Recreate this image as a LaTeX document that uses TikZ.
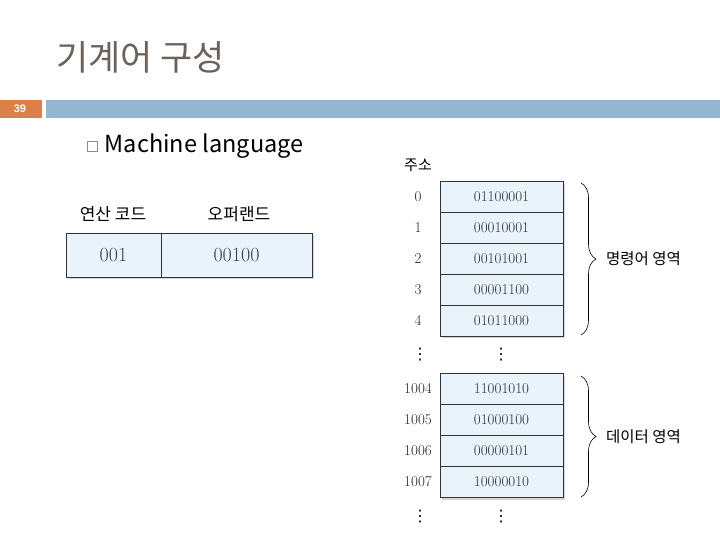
\documentclass[tikz,border=0pt]{standalone}
\usepackage{fontspec}
\newfontfamily\krfont{Noto Sans CJK KR}
\newfontfamily\arialfont{Liberation Sans}
\newfontfamily\symfont{DejaVu Sans}
\usetikzlibrary{positioning, calc, shadows, decorations.pathreplacing}
\definecolor{titlegray}{HTML}{6B625C}
\definecolor{slideorange}{HTML}{DD8047}
\definecolor{slideblue}{HTML}{94B6D2}
\definecolor{cellblue}{HTML}{E8F3FC}

\begin{document}
\begin{tikzpicture}[x=1pt, y=-1pt,
        cell/.style={rectangle, draw=black!80, fill=cellblue, minimum width=123pt, minimum height=31pt, inner sep=0pt, outer sep=0pt, font=\fontsize{15}{15}\selectfont, text=black!80, drop shadow={shadow xshift=2pt, shadow yshift=-2pt, fill=black!40, opacity=0.4}},
        field/.style={cell, minimum height=44pt, font=\fontsize{20}{20}\selectfont, text=black!75},
        addr/.style={font=\fontsize{15}{15}\selectfont, text=black!85, inner sep=0pt},
        head/.style={font=\krfont\fontsize{17}{17}\selectfont, inner sep=0pt},
        vdot/.style={font=\symfont\fontsize{16}{16}\selectfont, inner sep=0pt},
        area/.style={font=\krfont\fontsize{15.5}{15.5}\selectfont, anchor=west, inner sep=0pt},
        curly/.style={decorate, decoration={brace, amplitude=15pt, aspect=0.5}, semithick}
    ]
        \useasboundingbox (0,0) rectangle (720,540);

        % Slide heading
        \node[font=\krfont\fontsize{35}{35}\selectfont, text=titlegray, anchor=west, inner sep=0pt] (title) at (56,57) {기계어 구성};
        \fill[slideorange] (0,100) rectangle (42,118);
        \node[font=\arialfont\bfseries\fontsize{11}{11}\selectfont, text=white, inner sep=0pt] (pagenum) at (20,109) {39};
        \fill[slideblue] (46,100) rectangle (720,118);
        \node[draw=black!45, minimum size=10pt, inner sep=0pt] (bullet) at (92.5,146.5) {};
        \node[font=\krfont\fontsize{23.5}{23.5}\selectfont, anchor=west, inner sep=0pt, right=7pt of bullet] (topic) {Machine language};

        % Instruction format
        \node[field, minimum width=95pt] (opcode) at (113.5,255) {001};
        \node[field, minimum width=151pt, right=0pt of opcode] (operand) {00100};
        \node[head] (ophead) at (113,214) {연산 코드};
        \node[head] (operhead) at (239,214) {오퍼랜드};

        % Memory
        \coordinate (addrcol) at (418,0);
        \node[head, font=\krfont\fontsize{15}{15}\selectfont] (addrhead) at (418,165) {주소};

        \node[cell] (m0) at (501.5,196.5) {01100001};
        \node[cell, below=0pt of m0] (m1) {00010001};
        \node[cell, below=0pt of m1] (m2) {00101001};
        \node[cell, below=0pt of m2] (m3) {00001100};
        \node[cell, below=0pt of m3] (m4) {01011000};

        \node[addr] (a0) at (addrcol |- m0) {0};
        \node[addr] (a1) at (addrcol |- m1) {1};
        \node[addr] (a2) at (addrcol |- m2) {2};
        \node[addr] (a3) at (addrcol |- m3) {3};
        \node[addr] (a4) at (addrcol |- m4) {4};

        \node[cell] (n0) at (501.5,389) {11001010};
        \node[cell, below=0pt of n0] (n1) {01000100};
        \node[cell, below=0pt of n1] (n2) {00000101};
        \node[cell, below=0pt of n2] (n3) {10000010};

        \node[addr] (b0) at (addrcol |- n0) {1004};
        \node[addr] (b1) at (addrcol |- n1) {1005};
        \node[addr] (b2) at (addrcol |- n2) {1006};
        \node[addr] (b3) at (addrcol |- n3) {1007};

        \node[vdot] (d1) at (420,355) {⋮};
        \node[vdot] (d2) at (501,355) {⋮};
        \node[vdot] (d3) at (420,517) {⋮};
        \node[vdot] (d4) at (501,517) {⋮};

        % Braces
        \coordinate (cb1top) at (581,183);
        \coordinate (cb1bot) at (581,335);
        \coordinate (cb2top) at (581,376);
        \coordinate (cb2bot) at (581,497);
        \draw[curly] (cb1top) -- (cb1bot);
        \draw[curly] (cb2top) -- (cb2bot);
        \node[area] (codearea) at ($(cb1top)!0.5!(cb1bot)+(25,0)$) {명령어 영역};
        \node[area] (dataarea) at ($(cb2top)!0.5!(cb2bot)+(25,0)$) {데이터 영역};

    \end{tikzpicture}
\end{document}
